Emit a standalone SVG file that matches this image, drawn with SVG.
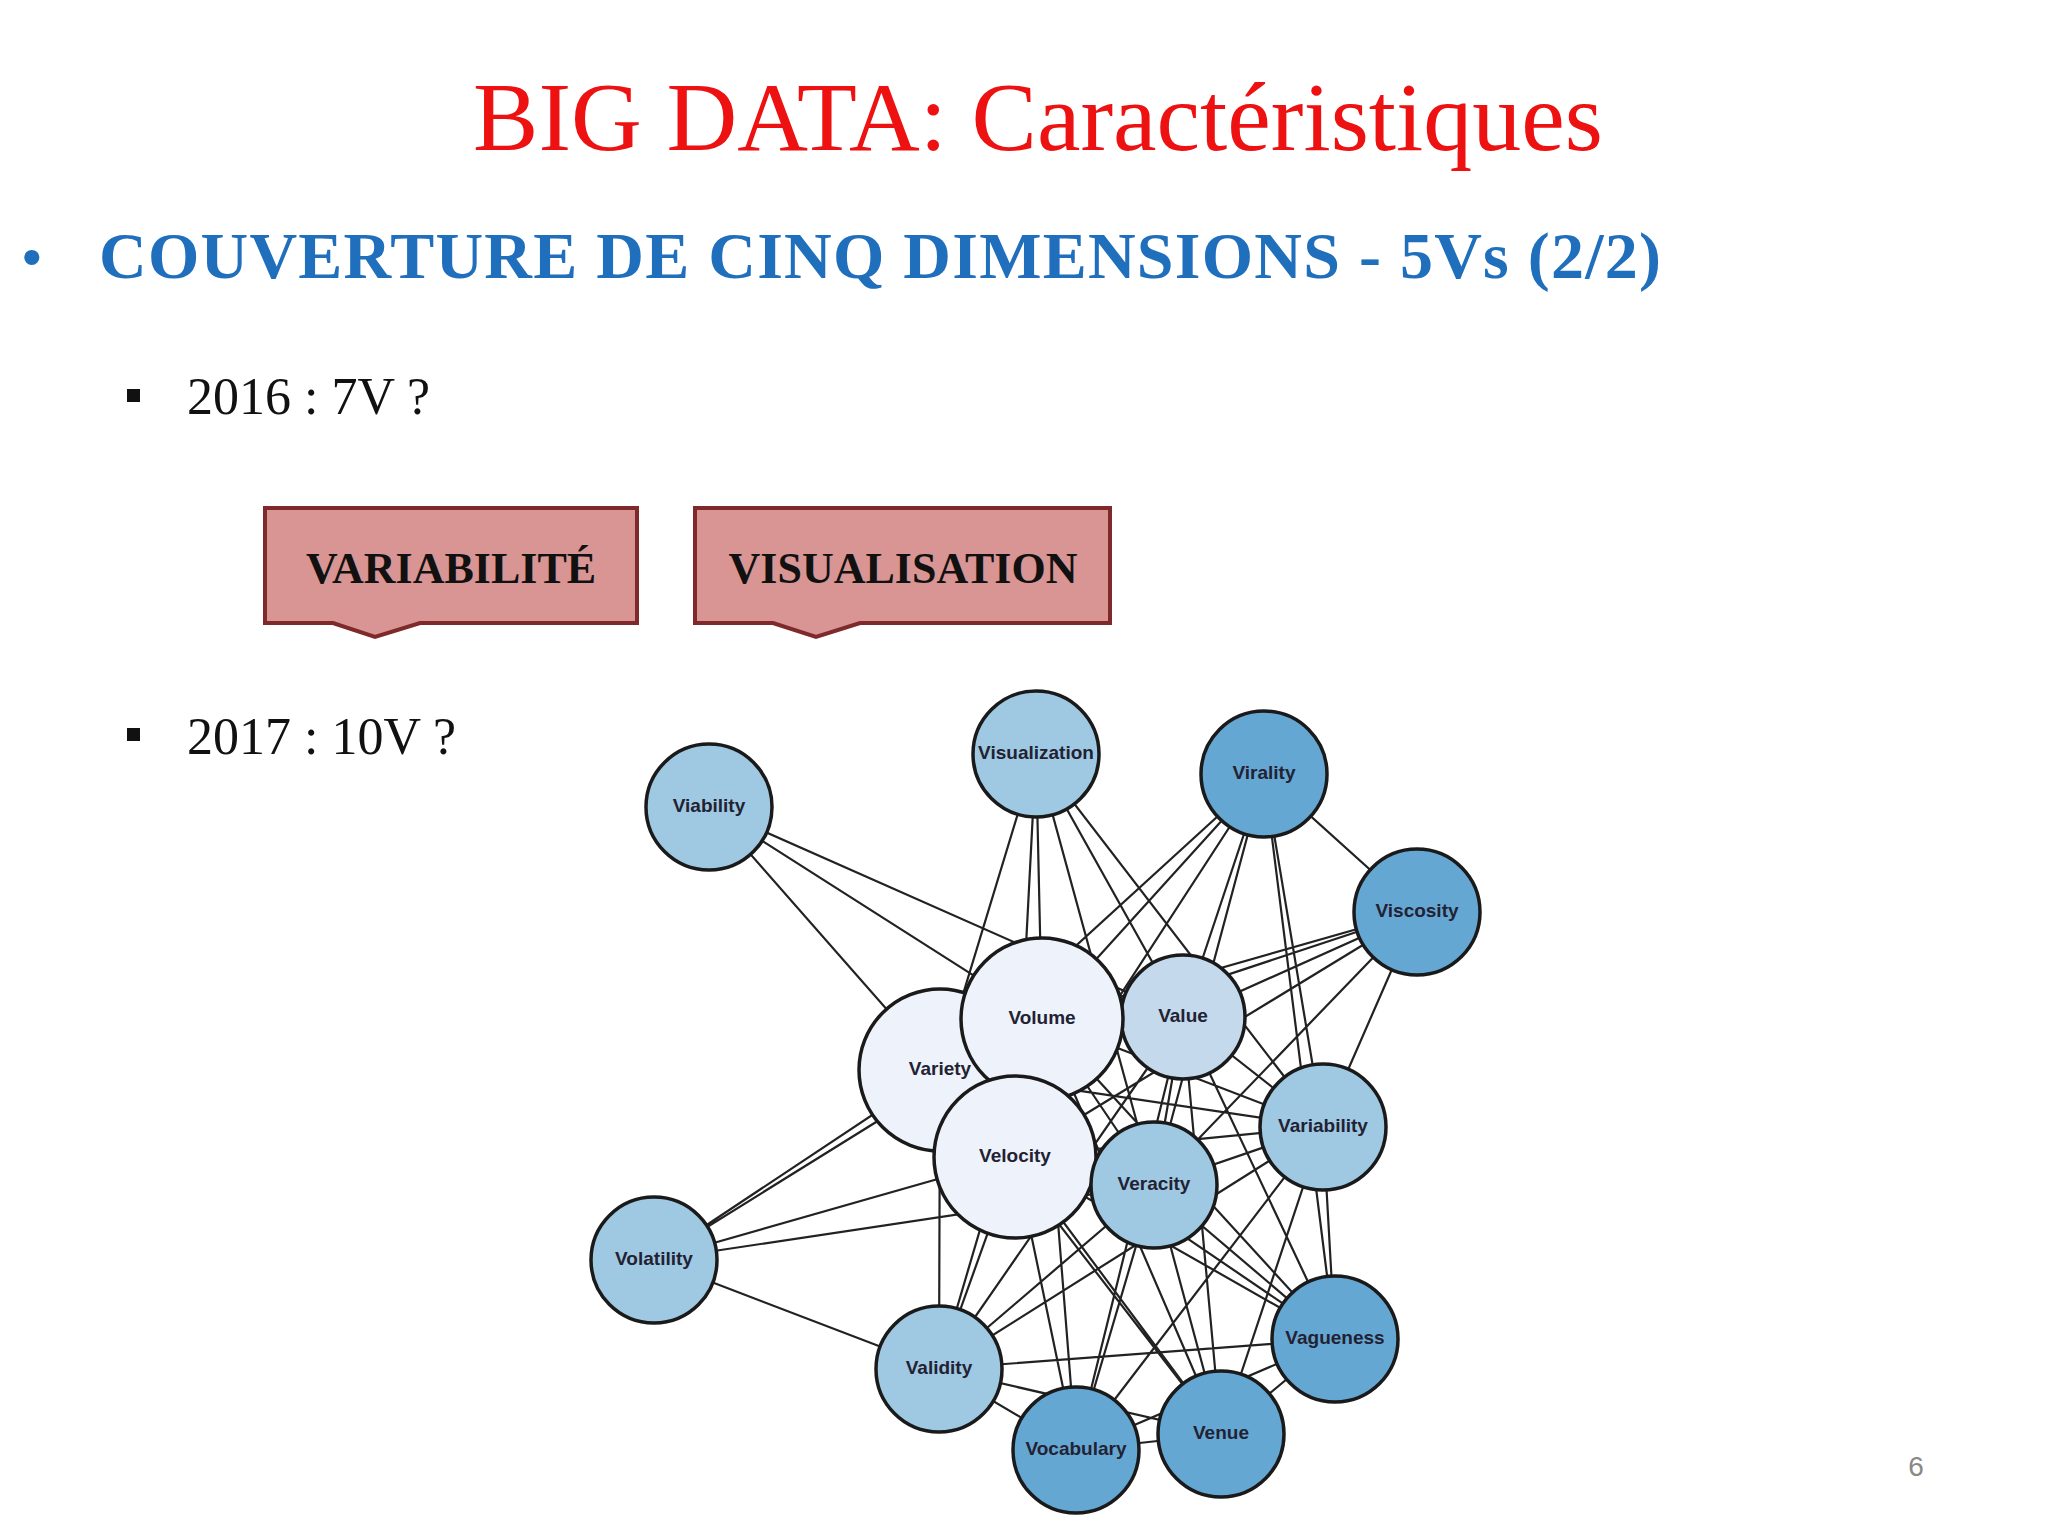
<svg xmlns="http://www.w3.org/2000/svg" width="2048" height="1536" viewBox="0 0 2048 1536">
<style>
.e{stroke:#222;stroke-width:2.2;fill:none}
.n circle{stroke:#1a1a1a;stroke-width:3.5}
.n text{font-family:"Liberation Sans",Arial,sans-serif;font-weight:bold;font-size:19px;fill:#223;text-anchor:middle;dominant-baseline:middle}
.big{fill:#eef2fb}.mid{fill:#c4d9ec}.lt{fill:#9fc9e2}.dk{fill:#65a7d3}
.box{fill:#d99594;stroke:#7f2a2a;stroke-width:4}
.bt{font-family:"Liberation Serif","Times New Roman",serif;font-weight:bold;font-size:44px;text-anchor:middle;fill:#111}
.st{font-family:"Liberation Serif","Times New Roman",serif;font-size:52px;fill:#111}
</style>
<rect width="2048" height="1536" fill="#fff"/>
<text x="1038" y="150" font-family="Liberation Serif,serif" font-size="98" fill="#ee1111" text-anchor="middle">BIG DATA: Caractéristiques</text>
<text x="22" y="276" font-family="Liberation Sans,sans-serif" font-size="56" fill="#1f6fbd">•</text>
<text x="99" y="278" font-family="Liberation Serif,serif" font-weight="bold" font-size="66" fill="#1f6fbd" textLength="1562">COUVERTURE DE CINQ DIMENSIONS - 5Vs (2/2)</text>
<rect x="127" y="389" width="13" height="13" fill="#111"/>
<text class="st" x="187" y="414">2016 : 7V ?</text>
<rect x="127" y="728" width="13" height="13" fill="#111"/>
<text class="st" x="187" y="754">2017 : 10V ?</text>
<g id="box1"><path class="box" d="M265 508H637V623H420L375 637L333 623H265Z"/><text class="bt" x="451" y="583">VARIABILITÉ</text></g>
<g id="box2"><path class="box" d="M695 508H1110V623H860L816 637L773 623H695Z"/><text class="bt" x="903" y="583">VISUALISATION</text></g>
<text x="1916" y="1476" font-family="Liberation Sans,sans-serif" font-size="28" fill="#888" text-anchor="middle">6</text>
<g id="connectors">
<path class="e" d="M709 807L940 1070M709 807L1042 1019M709 807L1183 1017
M1036 754L1042 1019M1036 754L1183 1017M1036 754L1154 1185M1036 754L940 1070M1036 754L1015 1157M1036 754L1323 1127
M1264 774L1042 1019M1264 774L1183 1017M1264 774L1015 1157M1264 774L1154 1185M1264 774L940 1070M1264 774L1323 1127M1264 774L1417 912M1264 774L1335 1339
M1417 912L1183 1017M1417 912L1042 1019M1417 912L1154 1185M1417 912L1015 1157M1417 912L1323 1127M1417 912L940 1070
M654 1260L940 1070M654 1260L1042 1019M654 1260L1015 1157M654 1260L1154 1185M654 1260L939 1369
M939 1369L940 1070M939 1369L1042 1019M939 1369L1015 1157M939 1369L1154 1185M939 1369L1183 1017M939 1369L1323 1127M939 1369L1335 1339M939 1369L1076 1450M939 1369L1221 1434
M1076 1450L1015 1157M1076 1450L1042 1019M1076 1450L1183 1017M1076 1450L1154 1185M1076 1450L1323 1127M1076 1450L1335 1339M1076 1450L1221 1434
M1221 1434L1015 1157M1221 1434L1042 1019M1221 1434L1154 1185M1221 1434L1183 1017M1221 1434L940 1070M1221 1434L1323 1127M1221 1434L1335 1339
M1335 1339L1015 1157M1335 1339L1042 1019M1335 1339L1183 1017M1335 1339L1154 1185M1335 1339L1323 1127M1335 1339L940 1070
M1323 1127L1042 1019M1323 1127L1183 1017M1323 1127L1015 1157M1323 1127L1154 1185M1323 1127L940 1070
M1154 1185L1042 1019M1154 1185L1183 1017M1154 1185L1015 1157M1154 1185L940 1070"/>
</g>
<g id="viability" class="n"><circle class="lt" cx="709" cy="807" r="63"/><text x="709" y="807">Viability</text></g>
<g id="visualization" class="n"><circle class="lt" cx="1036" cy="754" r="63"/><text x="1036" y="754">Visualization</text></g>
<g id="virality" class="n"><circle class="dk" cx="1264" cy="774" r="63"/><text x="1264" y="774">Virality</text></g>
<g id="viscosity" class="n"><circle class="dk" cx="1417" cy="912" r="63"/><text x="1417" y="912">Viscosity</text></g>
<g id="variety" class="n"><circle class="big" cx="940" cy="1070" r="81"/><text x="940" y="1070">Variety</text></g>
<g id="value" class="n"><circle class="mid" cx="1183" cy="1017" r="62"/><text x="1183" y="1017">Value</text></g>
<g id="volume" class="n"><circle class="big" cx="1042" cy="1019" r="81"/><text x="1042" y="1019">Volume</text></g>
<g id="velocity" class="n"><circle class="big" cx="1015" cy="1157" r="81"/><text x="1015" y="1157">Velocity</text></g>
<g id="veracity" class="n"><circle class="lt" cx="1154" cy="1185" r="63"/><text x="1154" y="1185">Veracity</text></g>
<g id="variability" class="n"><circle class="lt" cx="1323" cy="1127" r="63"/><text x="1323" y="1127">Variability</text></g>
<g id="volatility" class="n"><circle class="lt" cx="654" cy="1260" r="63"/><text x="654" y="1260">Volatility</text></g>
<g id="validity" class="n"><circle class="lt" cx="939" cy="1369" r="63"/><text x="939" y="1369">Validity</text></g>
<g id="vagueness" class="n"><circle class="dk" cx="1335" cy="1339" r="63"/><text x="1335" y="1339">Vagueness</text></g>
<g id="venue" class="n"><circle class="dk" cx="1221" cy="1434" r="63"/><text x="1221" y="1434">Venue</text></g>
<g id="vocabulary" class="n"><circle class="dk" cx="1076" cy="1450" r="63"/><text x="1076" y="1450">Vocabulary</text></g>
</svg>
